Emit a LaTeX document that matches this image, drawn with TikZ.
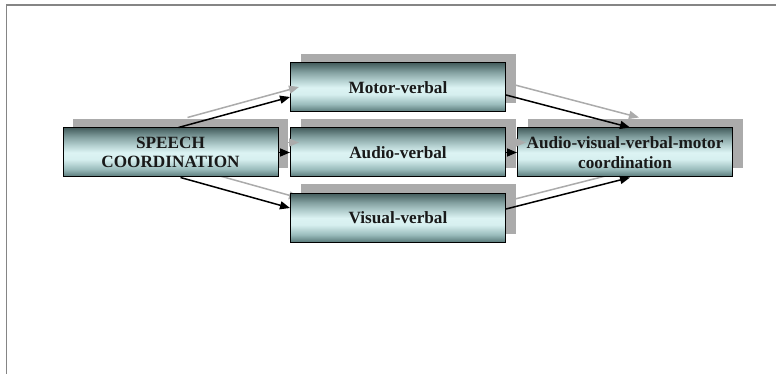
\documentclass[tikz,border=0pt]{standalone}
\usepackage{fontspec}
\setmainfont{Liberation Serif}
\usetikzlibrary{calc,shadows,arrows.meta,backgrounds}

\definecolor{shadowgray}{HTML}{ABABAB}
\definecolor{framegray}{HTML}{858585}
\definecolor{tealA}{HTML}{557575}
\definecolor{tealB}{HTML}{9ABCBC}
\definecolor{tealC}{HTML}{D6EFEF}
\definecolor{tealD}{HTML}{DCF3F3}
\definecolor{tealE}{HTML}{B0CCCC}
\definecolor{tealF}{HTML}{829F9F}
\definecolor{tealG}{HTML}{465F5F}

% vertical fill of the boxes: dark rims, pale band just below the middle
\pgfdeclareverticalshading{boxshade}{100bp}{%
  color(0bp)=(tealA); color(25bp)=(tealA); color(33bp)=(tealB);
  color(43bp)=(tealC); color(50bp)=(tealD); color(58bp)=(tealE);
  color(66bp)=(tealF); color(75bp)=(tealG); color(100bp)=(tealG)}

\tikzset{
  box/.style={draw=black, line width=1pt, shading=boxshade,
    minimum width=215pt, minimum height=49pt, inner sep=0pt,
    align=center, text=black!90,
    font=\fontsize{17.2}{19.5}\selectfont\bfseries,
    drop shadow={shadow xshift=10pt, shadow yshift=9pt,
      fill=shadowgray, opacity=1}},
  link/.style={line width=1.5pt, black,
    -{Triangle[length=10pt,width=8pt]}},
  ghost/.style={line width=1.5pt, shadowgray,
    -{Triangle[length=10pt,width=8pt]},
    transform canvas={xshift=9pt,yshift=10pt}}
}

\begin{document}
\begin{tikzpicture}[x=1pt,y=-1pt]
\useasboundingbox (0,0) rectangle (776,374);

% page frame (top and left edges)
\draw[framegray, line width=1.6pt] (6.5,374) -- (6.5,5) -- (776,5);

% boxes
\node[box] (motor)  at (398,87.5)  {Motor-verbal};
\node[box] (audio)  at (398,152.5) {Audio-verbal};
\node[box] (visual) at (398,218)   {Visual-verbal};
\node[box] (speech) at (170.5,152.5) {SPEECH\\COORDINATION};
\node[box] (final)  at (625,152.5) {Audio-visual-verbal-motor\\coordination};

% arrow shadows that pass beneath the boxes
\begin{scope}[on background layer]
  \draw[ghost] ($(speech.south)+(10,0)$) -- ($(visual.west)+(0,-10)$);
  \draw[ghost] ($(visual.east)+(0,-9)$) -- ($(final.south)+(5,0)$);
\end{scope}

% arrow shadows drawn over the boxes
\draw[ghost] ($(speech.north)+(8,0)$) -- ($(motor.west)+(0,9.5)$);
\draw[ghost] (speech.east) -- (audio.west);
\draw[ghost] ($(motor.east)+(0,7.5)$) -- ($(final.north)+(5,0)$);
\draw[ghost] (audio.east) -- (final.west);

% arrows
\draw[link] ($(speech.north)+(8,0)$) -- ($(motor.west)+(0,9.5)$);
\draw[link] (speech.east) -- (audio.west);
\draw[link] ($(speech.south)+(10,0)$) -- ($(visual.west)+(0,-10)$);
\draw[link] ($(motor.east)+(0,7.5)$) -- ($(final.north)+(5,0)$);
\draw[link] (audio.east) -- (final.west);
\draw[link] ($(visual.east)+(0,-9)$) -- ($(final.south)+(5,0)$);
\end{tikzpicture}
\end{document}
